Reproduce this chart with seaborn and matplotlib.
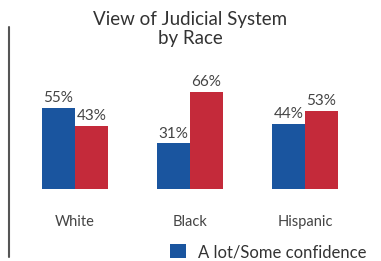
import matplotlib.pyplot as plt
from matplotlib.lines import Line2D
import pandas as pd
import seaborn as sns

races = ['White', 'Black', 'Hispanic']
confidence = [55, 31, 44]
no_confidence = [43, 66, 53]
series = ['A lot/Some confidence', 'Little/No confidence']
colors = ['#1a559f', '#c42a3a']

df = pd.DataFrame({
    'race': races * 2,
    'pct': confidence + no_confidence,
    'series': [series[0]] * 3 + [series[1]] * 3,
})

sns.set_style('white')
plt.rcParams['font.family'] = ['Lato', 'DejaVu Sans']

fig = plt.figure(figsize=(3.81, 2.61), dpi=100)
ax = fig.add_axes([17.5 / 381, 72 / 261, 345 / 381, 103 / 261])

sns.barplot(data=df, x='race', y='pct', hue='series', palette=colors,
            width=0.575, saturation=1, legend=False, linewidth=0, ax=ax)

for cont in ax.containers:
    ax.bar_label(cont, labels=[f'{v:.0f}%' for v in cont.datavalues],
                 padding=2, fontsize=11, color='#444444')

ax.set_ylim(0, 70)
ax.set_xlim(-0.5, 2.5)
ax.set_xlabel('')
ax.set_ylabel('')
ax.set_yticks([])
ax.tick_params(axis='x', length=0, pad=19, labelsize=10.5, labelcolor='#444444')
sns.despine(ax=ax, left=True, bottom=True)

# title
fig.text(190 / 381, 1 - 29 / 261, 'View of Judicial System\nby Race',
         ha='center', va='center', fontsize=13.5, color='#333333',
         linespacing=1.15)

# left rule
fig.add_artist(Line2D([9 / 381, 9 / 381], [4 / 261, 1 - 27 / 261],
                      color='#555555', lw=1.5))

# legend with only the first series
handle = ax.containers[0].patches[0]
fig.legend([handle], [series[0]], loc='center left',
           bbox_to_anchor=(155 / 381, 1 - 252 / 261), frameon=False,
           fontsize=12, handlelength=0.95, handleheight=0.95,
           handletextpad=0.7, labelcolor='#333333')

fig.savefig('out.png', dpi=100)
